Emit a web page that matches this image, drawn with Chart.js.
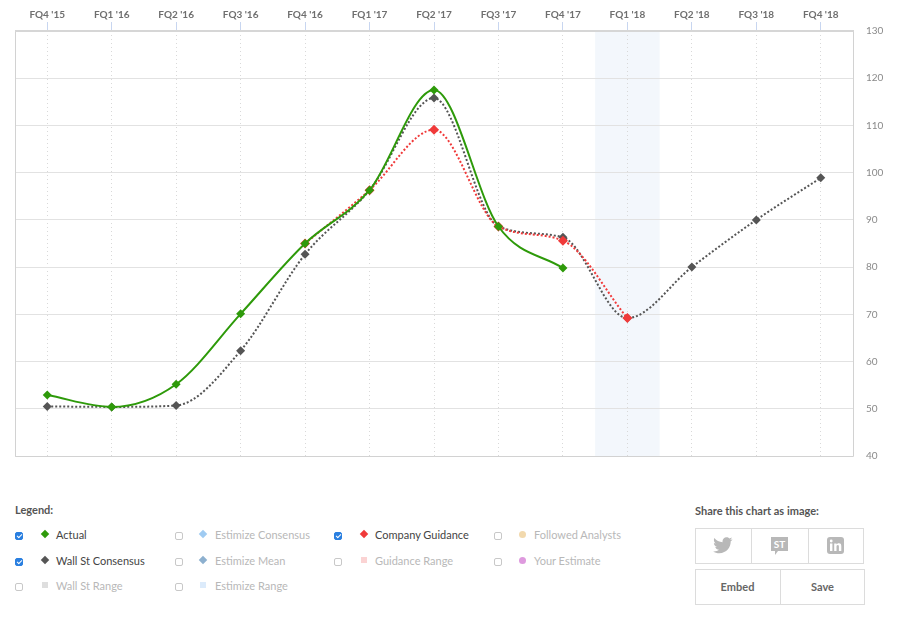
<!DOCTYPE html>
<html>
<head>
<meta charset="utf-8">
<script src="https://cdn.jsdelivr.net/npm/chart.js@4"></script>
<style>
  html, body { margin:0; padding:0; background:#fff; }
  body { width:897px; height:625px; position:relative; overflow:hidden; font-family: Lato, "Open Sans", sans-serif; }
  #wrap { position:absolute; left:0; top:0; width:897px; height:475px; }
  .abs { position:absolute; white-space:nowrap; }
  .title { font-weight:bold; font-size:11px; color:#555; }
  .cb { position:absolute; width:8px; height:8px; border:1px solid #c8c8c8; border-radius:2px; background:#fff; box-sizing:border-box; }
  .cb.on { background:#2a7fe0; border-color:#2a7fe0; }
  .cb.on::after { content:""; position:absolute; left:2px; top:0px; width:2px; height:4px; border:solid #fff; border-width:0 1.2px 1.2px 0; transform:rotate(45deg); }
  .mk { position:absolute; width:6px; height:6px; }
  .dia { transform:rotate(45deg); }
  .circ { border-radius:50%; width:7px; height:7px; }
  .lbl { position:absolute; font-size:11px; line-height:13px; white-space:nowrap; }
  .on-l { color:#444; }
  .off-l { color:#b8b8b8; }
  .box { position:absolute; border:1px solid #dcdcdc; box-sizing:border-box; }
  .btn { position:absolute; font-weight:bold; font-size:11px; color:#666; text-align:center; }
</style>
</head>
<body>
<div id="wrap"><canvas id="c" width="897" height="475"></canvas></div>

<div class="abs title" style="left:15px; top:503px;">Legend:</div>

<!-- column 1 -->
<div class="cb on" style="left:15px; top:532px;"></div>
<div class="mk dia" style="left:42px; top:531px; background:#2e9a0a;"></div>
<div class="lbl on-l" style="left:56px; top:528px;">Actual</div>

<div class="cb on" style="left:15px; top:558px;"></div>
<div class="mk dia" style="left:42px; top:557px; background:#555;"></div>
<div class="lbl on-l" style="left:56px; top:554px;">Wall St Consensus</div>

<div class="cb" style="left:15px; top:583px;"></div>
<div class="mk" style="left:42px; top:582px; background:#dedede;"></div>
<div class="lbl off-l" style="left:56px; top:579px;">Wall St Range</div>

<!-- column 2 -->
<div class="cb" style="left:175px; top:532px;"></div>
<div class="mk dia" style="left:200px; top:531px; background:#9fcbf2;"></div>
<div class="lbl off-l" style="left:215px; top:528px;">Estimize Consensus</div>

<div class="cb" style="left:175px; top:558px;"></div>
<div class="mk dia" style="left:200px; top:557px; background:#8db0cf;"></div>
<div class="lbl off-l" style="left:215px; top:554px;">Estimize Mean</div>

<div class="cb" style="left:175px; top:583px;"></div>
<div class="mk" style="left:200px; top:582px; background:#dcebfb;"></div>
<div class="lbl off-l" style="left:215px; top:579px;">Estimize Range</div>

<!-- column 3 -->
<div class="cb on" style="left:334px; top:532px;"></div>
<div class="mk dia" style="left:361px; top:531px; background:#f03a3a;"></div>
<div class="lbl on-l" style="left:375px; top:528px;">Company Guidance</div>

<div class="cb" style="left:334px; top:558px;"></div>
<div class="mk" style="left:361px; top:557px; background:#fbd3d3;"></div>
<div class="lbl off-l" style="left:375px; top:554px;">Guidance Range</div>

<!-- column 4 -->
<div class="cb" style="left:494px; top:532px;"></div>
<div class="mk circ" style="left:519px; top:531px; background:#f2d9ad;"></div>
<div class="lbl off-l" style="left:534px; top:528px;">Followed Analysts</div>

<div class="cb" style="left:494px; top:558px;"></div>
<div class="mk circ" style="left:519px; top:557px; background:#de9ade;"></div>
<div class="lbl off-l" style="left:534px; top:554px;">Your Estimate</div>

<!-- share -->
<div class="abs title" style="left:695px; top:504px;">Share this chart as image:</div>
<div class="box" style="left:695px; top:528px; width:169px; height:36px;"></div>
<div class="abs" style="left:751px; top:528px; width:1px; height:36px; background:#dcdcdc;"></div>
<div class="abs" style="left:808px; top:528px; width:1px; height:36px; background:#dcdcdc;"></div>
<svg class="abs" style="left:713px; top:537px;" width="20" height="17" viewBox="0 0 20 17">
  <path fill="#b8b8b8" d="M19.5 2.2c-.7.3-1.5.5-2.3.6.8-.5 1.4-1.3 1.7-2.2-.8.5-1.6.8-2.5 1C15.7.8 14.7.3 13.5.3c-2.2 0-4 1.8-4 4 0 .3 0 .6.1.9C6.3 5.1 3.3 3.5 1.4 1.1c-.4.6-.5 1.3-.5 2 0 1.4.7 2.6 1.8 3.3-.7 0-1.300-.2-1.8-.5 0 2 1.4 3.6 3.2 4-.3.1-.7.1-1.1.1-.3 0-.5 0-.8-.1.5 1.6 2 2.8 3.8 2.8-1.4 1.1-3.1 1.700-5 1.7H.1c1.8 1.1 3.9 1.8 6.2 1.8 7.4 0 11.4-6.1 11.4-11.4v-.5c.8-.6 1.4-1.3 1.8-2.1z"/>
</svg>
<svg class="abs" style="left:770px; top:536px;" width="19" height="20" viewBox="0 0 19 20">
  <path fill="#b8b8b8" d="M1 1h17v14H8l-3 4v-4H1z"/>
  <text x="9.5" y="12" text-anchor="middle" font-family="Lato, sans-serif" font-weight="bold" font-size="10" fill="#fff">ST</text>
</svg>
<svg class="abs" style="left:827px; top:537px;" width="17" height="17" viewBox="0 0 17 17">
  <rect x="0" y="0" width="17" height="17" rx="3" fill="#b8b8b8"/>
  <rect x="3" y="6.5" width="2.4" height="7.5" fill="#fff"/>
  <circle cx="4.2" cy="4" r="1.4" fill="#fff"/>
  <path fill="#fff" d="M7.2 6.5h2.3v1.1c.4-.7 1.2-1.3 2.4-1.3 2 0 2.4 1.3 2.4 3V14h-2.4v-4.2c0-.9-.1-1.7-1.1-1.7s-1.3.8-1.3 1.7V14H7.2z"/>
</svg>
<div class="box" style="left:695px; top:569px; width:170px; height:36px;"></div>
<div class="abs" style="left:780px; top:569px; width:1px; height:36px; background:#dcdcdc;"></div>
<div class="btn" style="left:695px; top:580px; width:85px;">Embed</div>
<div class="btn" style="left:780px; top:580px; width:85px;">Save</div>

<script>
const quarters = ["FQ4 '15","FQ1 '16","FQ2 '16","FQ3 '16","FQ4 '16","FQ1 '17","FQ2 '17","FQ3 '17","FQ4 '17","FQ1 '18","FQ2 '18","FQ3 '18","FQ4 '18"];
const actual = [52.9, 50.4, 55.2, 70.1, 85.0, 96.3, 117.5, 88.6, 79.8, null, null, null, null];
const wallStConsensus = [50.5, 50.4, 50.7, 62.3, 82.7, 96.3, 115.8, 88.6, 86.3, 69.2, 80.0, 90.0, 98.9];
const companyGuidance = [null, null, null, null, 85.0, 96.3, 109.1, 88.6, 85.6, 69.2, null, null, null];
const yTicks = [40, 50, 60, 70, 80, 90, 100, 110, 120, 130];
const highlightQuarter = "FQ1 '18";

const frame = {
  id: 'frame',
  beforeDraw(chart) {
    const {ctx, chartArea: a, scales: {x}} = chart;
    const i = quarters.indexOf(highlightQuarter);
    const half = (x.getPixelForValue(1) - x.getPixelForValue(0)) / 2;
    const cx = x.getPixelForValue(i);
    ctx.save();
    ctx.fillStyle = '#f3f7fc';
    ctx.fillRect(cx - half, a.top, half * 2, a.bottom - a.top);
    ctx.restore();
  },
  afterDraw(chart) {
    const {ctx, chartArea: a} = chart;
    ctx.save();
    ctx.strokeStyle = '#d2d2d2';
    ctx.lineWidth = 1;
    ctx.beginPath();
    ctx.moveTo(a.left + 0.5, a.top);
    ctx.lineTo(a.left + 0.5, a.bottom + 0.5);
    ctx.lineTo(a.right + 0.5, a.bottom + 0.5);
    ctx.lineTo(a.right + 0.5, a.top);
    ctx.stroke();
    ctx.strokeStyle = '#d6d6d6';
    ctx.lineWidth = 2;
    ctx.beginPath();
    ctx.moveTo(a.left, a.top);
    ctx.lineTo(a.right + 1, a.top);
    ctx.stroke();
    ctx.restore();
  }
};

new Chart(document.getElementById('c'), {
  type: 'line',
  data: {
    labels: quarters,
    datasets: [
      {
        label: 'Actual', data: actual,
        borderColor: '#2e9a0a', backgroundColor: '#2e9a0a',
        borderWidth: 2, cubicInterpolationMode: 'monotone', pointStyle: 'rectRot', pointRadius: 4.5, pointBorderWidth: 0,
        spanGaps: false, order: 1
      },
      {
        label: 'Company Guidance', data: companyGuidance,
        borderColor: '#f03a3a', backgroundColor: '#f03a3a',
        borderWidth: 2, borderDash: [2, 2], cubicInterpolationMode: 'monotone', pointStyle: 'rectRot', pointRadius: 5, pointBorderWidth: 0,
        order: 2
      },
      {
        label: 'Wall St Consensus', data: wallStConsensus,
        borderColor: '#555555', backgroundColor: '#555555',
        borderWidth: 2, borderDash: [2, 2], cubicInterpolationMode: 'monotone', pointStyle: 'rectRot', pointRadius: 4.5, pointBorderWidth: 0,
        order: 3
      }
    ]
  },
  options: {
    responsive: false,
    animation: false,
    layout: { padding: { left: 15, bottom: 15, top: 0, right: 0 } },
    plugins: { legend: { display: false }, tooltip: { enabled: false } },
    scales: {
      x: {
        type: 'category',
        position: 'top',
        offset: true,
        afterFit(s) { s.height = 31; },
        grid: {
          color: '#d9d9d9', lineWidth: 1, drawTicks: true, tickLength: 9,
          tickColor: '#c8d6f0', tickWidth: 1, offset: false
        },
        border: { display: false, dash: [1, 3] },
        ticks: {
          color: '#6f6f6f', font: { family: 'Lato', size: 10, weight: 'bold' },
          padding: 1, maxRotation: 0, autoSkip: false
        }
      },
      y: {
        position: 'right',
        min: 40, max: 130,
        afterFit(s) { s.width = 44; },
        afterBuildTicks(s) { s.ticks = yTicks.map(v => ({ value: v })); },
        grid: { color: '#e2e2e2', lineWidth: 1, drawTicks: false },
        border: { display: false },
        ticks: {
          color: '#8a8a8a', font: { family: 'Lato', size: 10 }, padding: 13,
          callback: (v) => String(v)
        }
      }
    }
  },
  plugins: [frame]
});
</script>
</body>
</html>
